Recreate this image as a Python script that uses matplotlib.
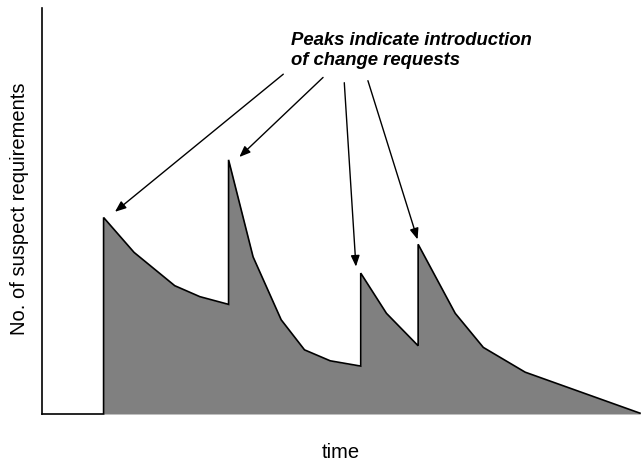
import matplotlib
matplotlib.use("Agg")
import matplotlib.pyplot as plt

plt.rcParams["font.family"] = ["Liberation Sans", "DejaVu Sans"]

# ---------------- DATA ----------------
# time axis runs 0..100, count axis 0..100 (arbitrary units)
time = [0, 10.3, 10.3, 15.4, 22.2, 26.4, 31.2, 31.2, 35.3, 40.0, 43.9, 48.2,
        53.3, 53.3, 57.6, 62.9, 62.9, 69.1, 73.8, 80.8, 100.0]
suspect = [0, 0, 48.4, 39.8, 31.6, 28.9, 27.0, 62.6, 38.7, 23.2, 15.8, 13.1,
           11.8, 34.7, 24.8, 16.8, 41.8, 24.8, 16.4, 10.3, 0.2]

note = "Peaks indicate introduction\nof change requests"
# arrow (tail, tip) pairs pointing from the note to the peaks
arrow_tails = [(40.35, 83.7), (47.0, 82.9), (50.55, 81.6), (54.5, 82.1)]
arrow_tips = [(12.2, 49.8), (33.0, 63.3), (52.5, 36.3), (62.8, 43.0)]

# ---------------- FIGURE ----------------
fig = plt.figure(figsize=(6.41, 4.63), dpi=100)
ax = fig.add_axes([42/641, 49/463, 598/641, 406/463])

ax.fill_between(time, suspect, 0, color="#808080", lw=0)
ax.plot(time, suspect, color="black", lw=1.2, clip_on=False,
        solid_joinstyle="miter")

ax.set_xlim(0, 100)
ax.set_ylim(0, 100)
ax.set_xticks([])
ax.set_yticks([])
for side in ["top", "right", "bottom"]:
    ax.spines[side].set_visible(False)
ax.spines["left"].set_linewidth(1.2)

for tail, tip in zip(arrow_tails, arrow_tips):
    ax.annotate("", xy=tip, xytext=tail,
                arrowprops=dict(arrowstyle="-|>,head_length=0.55,head_width=0.22",
                                color="black", lw=1.0, shrinkA=0, shrinkB=0,
                                mutation_scale=12))

fig.text(291/641, 1 - 32/463, note, ha="left", va="top",
         fontsize=13.3, fontweight="bold", fontstyle="italic", linespacing=1.2)

# axis titles
fig.text(20/641, 1 - 208.5/463, "No. of suspect requirements", rotation=90,
         ha="center", va="center", fontsize=14.5)
fig.text(341/641, 1 - 458/463, "time", ha="center", va="baseline", fontsize=14.5)

fig.savefig("out.png", dpi=100)
